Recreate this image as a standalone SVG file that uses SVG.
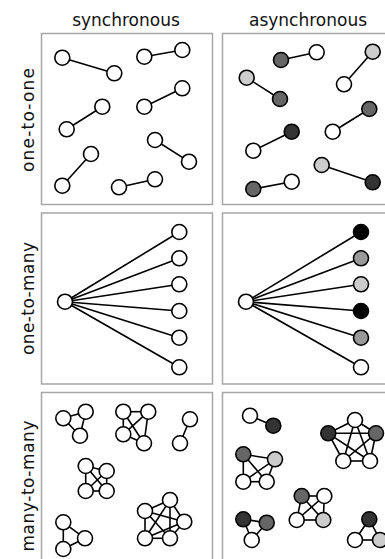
<svg xmlns="http://www.w3.org/2000/svg" width="385" height="559" viewBox="0 0 385 559">
<style>
.panel{fill:none;stroke:#a6a6a6;stroke-width:1.5}
.lbl{font-family:"DejaVu Sans",sans-serif;font-size:17px;fill:#111}
.e line{stroke:#000;stroke-width:1.6}
.n circle{stroke:#000;stroke-width:1.6;fill:#fff}
.n.g1 circle{fill:#cccccc}
.n.g2 circle{fill:#999999}
.n.g3 circle{fill:#666666}
.n.g4 circle{fill:#333333}
.n.g5 circle{fill:#000000}
</style>
<rect width="385" height="559" fill="#fff"/>
<g id="panels">
<rect class="panel" x="41.5" y="33.5" width="171" height="171"/>
<rect class="panel" x="222.5" y="33.5" width="171" height="171"/>
<rect class="panel" x="41.5" y="213" width="171" height="171"/>
<rect class="panel" x="222.5" y="213" width="171" height="171"/>
<rect class="panel" x="41.5" y="392.5" width="171" height="171"/>
<rect class="panel" x="222.5" y="392.5" width="171" height="171"/>
</g>
<g id="labels">
<text class="lbl" x="126" y="26" text-anchor="middle">synchronous</text>
<text class="lbl" x="308" y="26" text-anchor="middle">asynchronous</text>
<text class="lbl" transform="translate(34,120) rotate(-90)" text-anchor="middle" textLength="104" lengthAdjust="spacing">one-to-one</text>
<text class="lbl" transform="translate(34,298.5) rotate(-90)" text-anchor="middle" textLength="113" lengthAdjust="spacing">one-to-many</text>
<text class="lbl" transform="translate(34,486) rotate(-90)" text-anchor="middle" textLength="131" lengthAdjust="spacing">many-to-many</text>
</g>
<g id="connectors" class="e">
<line x1="62.3" y1="57.7" x2="114.3" y2="73.3"/>
<line x1="144.3" y1="56.7" x2="182.3" y2="50"/>
<line x1="144.3" y1="106.7" x2="182.3" y2="88.3"/>
<line x1="102.3" y1="106.7" x2="66.7" y2="129.3"/>
<line x1="155" y1="140" x2="189" y2="161.7"/>
<line x1="91" y1="154" x2="62.3" y2="185.7"/>
<line x1="119" y1="187.3" x2="155" y2="179.3"/>
<line x1="281" y1="60" x2="316.7" y2="52.3"/>
<line x1="372.7" y1="51.7" x2="344" y2="84.3"/>
<line x1="246.7" y1="77.7" x2="280" y2="99"/>
<line x1="291.7" y1="131.7" x2="253.3" y2="150.7"/>
<line x1="369.3" y1="109" x2="332.7" y2="131.7"/>
<line x1="321.7" y1="165" x2="372.7" y2="182.3"/>
<line x1="253.3" y1="189" x2="291.7" y2="181.7"/>
<line x1="65" y1="301.7" x2="179.3" y2="232"/>
<line x1="65" y1="301.7" x2="179.3" y2="258.3"/>
<line x1="65" y1="301.7" x2="179.3" y2="284.3"/>
<line x1="65" y1="301.7" x2="179.3" y2="311"/>
<line x1="65" y1="301.7" x2="179.3" y2="337.7"/>
<line x1="65" y1="301.7" x2="179.3" y2="367.3"/>
<line x1="246" y1="301.7" x2="361" y2="232"/>
<line x1="246" y1="301.7" x2="361" y2="258.3"/>
<line x1="246" y1="301.7" x2="361" y2="284.3"/>
<line x1="246" y1="301.7" x2="361" y2="311"/>
<line x1="246" y1="301.7" x2="361" y2="337.7"/>
<line x1="246" y1="301.7" x2="361" y2="367.3"/>
<line x1="63.3" y1="418.3" x2="85.7" y2="411.7"/>
<line x1="85.7" y1="411.7" x2="80" y2="435.7"/>
<line x1="63.3" y1="418.3" x2="80" y2="435.7"/>
<line x1="123.3" y1="411.7" x2="148.3" y2="411.7"/>
<line x1="123.3" y1="411.7" x2="123.3" y2="434.3"/>
<line x1="148.3" y1="411.7" x2="144" y2="443.3"/>
<line x1="123.3" y1="434.3" x2="144" y2="443.3"/>
<line x1="123.3" y1="411.7" x2="144" y2="443.3"/>
<line x1="148.3" y1="411.7" x2="123.3" y2="434.3"/>
<line x1="190" y1="419.3" x2="180" y2="443.3"/>
<line x1="85.7" y1="466" x2="106.7" y2="471"/>
<line x1="85.7" y1="466" x2="85.7" y2="491"/>
<line x1="85.7" y1="466" x2="106.7" y2="491"/>
<line x1="106.7" y1="471" x2="85.7" y2="491"/>
<line x1="106.7" y1="471" x2="106.7" y2="491"/>
<line x1="85.7" y1="491" x2="106.7" y2="491"/>
<line x1="170" y1="500" x2="145" y2="511"/>
<line x1="170" y1="500" x2="184.3" y2="521.7"/>
<line x1="170" y1="500" x2="145" y2="538.3"/>
<line x1="170" y1="500" x2="170" y2="538.3"/>
<line x1="145" y1="511" x2="184.3" y2="521.7"/>
<line x1="145" y1="511" x2="145" y2="538.3"/>
<line x1="145" y1="511" x2="170" y2="538.3"/>
<line x1="184.3" y1="521.7" x2="145" y2="538.3"/>
<line x1="184.3" y1="521.7" x2="170" y2="538.3"/>
<line x1="145" y1="538.3" x2="170" y2="538.3"/>
<line x1="63.3" y1="522.3" x2="85" y2="538.3"/>
<line x1="63.3" y1="522.3" x2="63.3" y2="549"/>
<line x1="85" y1="538.3" x2="63.3" y2="549"/>
<line x1="250" y1="415.7" x2="273.3" y2="425.7"/>
<line x1="355" y1="420" x2="328.3" y2="433.3"/>
<line x1="355" y1="420" x2="376" y2="433.3"/>
<line x1="355" y1="420" x2="343.3" y2="461"/>
<line x1="355" y1="420" x2="370" y2="461"/>
<line x1="328.3" y1="433.3" x2="376" y2="433.3"/>
<line x1="328.3" y1="433.3" x2="343.3" y2="461"/>
<line x1="328.3" y1="433.3" x2="370" y2="461"/>
<line x1="376" y1="433.3" x2="343.3" y2="461"/>
<line x1="376" y1="433.3" x2="370" y2="461"/>
<line x1="343.3" y1="461" x2="370" y2="461"/>
<line x1="243.3" y1="454.3" x2="275" y2="459.3"/>
<line x1="243.3" y1="454.3" x2="243.3" y2="481.7"/>
<line x1="243.3" y1="454.3" x2="266.7" y2="481.7"/>
<line x1="275" y1="459.3" x2="243.3" y2="481.7"/>
<line x1="275" y1="459.3" x2="266.7" y2="481.7"/>
<line x1="243.3" y1="481.7" x2="266.7" y2="481.7"/>
<line x1="301.7" y1="496" x2="324.3" y2="496"/>
<line x1="301.7" y1="496" x2="296.7" y2="520"/>
<line x1="301.7" y1="496" x2="323.3" y2="520"/>
<line x1="324.3" y1="496" x2="296.7" y2="520"/>
<line x1="324.3" y1="496" x2="323.3" y2="520"/>
<line x1="296.7" y1="520" x2="323.3" y2="520"/>
<line x1="243.3" y1="519.3" x2="266.7" y2="522.7"/>
<line x1="243.3" y1="519.3" x2="251.7" y2="540"/>
<line x1="266.7" y1="522.7" x2="251.7" y2="540"/>
<line x1="369.3" y1="519.3" x2="355" y2="540"/>
<line x1="369.3" y1="519.3" x2="380" y2="540"/>
<line x1="355" y1="540" x2="380" y2="540"/>
</g>
<g id="nodes">
<g id="s1a" class="n"><circle cx="62.3" cy="57.7" r="7.5"/></g>
<g id="s1b" class="n"><circle cx="114.3" cy="73.3" r="7.5"/></g>
<g id="s1c" class="n"><circle cx="144.3" cy="56.7" r="7.5"/></g>
<g id="s1d" class="n"><circle cx="182.3" cy="50" r="7.5"/></g>
<g id="s1e" class="n"><circle cx="144.3" cy="106.7" r="7.5"/></g>
<g id="s1f" class="n"><circle cx="182.3" cy="88.3" r="7.5"/></g>
<g id="s1g" class="n"><circle cx="102.3" cy="106.7" r="7.5"/></g>
<g id="s1h" class="n"><circle cx="66.7" cy="129.3" r="7.5"/></g>
<g id="s1i" class="n"><circle cx="155" cy="140" r="7.5"/></g>
<g id="s1j" class="n"><circle cx="189" cy="161.7" r="7.5"/></g>
<g id="s1k" class="n"><circle cx="91" cy="154" r="7.5"/></g>
<g id="s1l" class="n"><circle cx="62.3" cy="185.7" r="7.5"/></g>
<g id="s1m" class="n"><circle cx="119" cy="187.3" r="7.5"/></g>
<g id="s1n" class="n"><circle cx="155" cy="179.3" r="7.5"/></g>
<g id="a1a" class="n g3"><circle cx="281" cy="60" r="7.5"/></g>
<g id="a1b" class="n"><circle cx="316.7" cy="52.3" r="7.5"/></g>
<g id="a1c" class="n g1"><circle cx="372.7" cy="51.7" r="7.5"/></g>
<g id="a1d" class="n"><circle cx="344" cy="84.3" r="7.5"/></g>
<g id="a1e" class="n g1"><circle cx="246.7" cy="77.7" r="7.5"/></g>
<g id="a1f" class="n g3"><circle cx="280" cy="99" r="7.5"/></g>
<g id="a1g" class="n g4"><circle cx="291.7" cy="131.7" r="7.5"/></g>
<g id="a1h" class="n"><circle cx="253.3" cy="150.7" r="7.5"/></g>
<g id="a1i" class="n g3"><circle cx="369.3" cy="109" r="7.5"/></g>
<g id="a1j" class="n"><circle cx="332.7" cy="131.7" r="7.5"/></g>
<g id="a1k" class="n g1"><circle cx="321.7" cy="165" r="7.5"/></g>
<g id="a1l" class="n g4"><circle cx="372.7" cy="182.3" r="7.5"/></g>
<g id="a1m" class="n g3"><circle cx="253.3" cy="189" r="7.5"/></g>
<g id="a1n" class="n"><circle cx="291.7" cy="181.7" r="7.5"/></g>
<g id="s2hub" class="n"><circle cx="65" cy="301.7" r="7.5"/></g>
<g id="s2l1" class="n"><circle cx="179.3" cy="232" r="7.5"/></g>
<g id="s2l2" class="n"><circle cx="179.3" cy="258.3" r="7.5"/></g>
<g id="s2l3" class="n"><circle cx="179.3" cy="284.3" r="7.5"/></g>
<g id="s2l4" class="n"><circle cx="179.3" cy="311" r="7.5"/></g>
<g id="s2l5" class="n"><circle cx="179.3" cy="337.7" r="7.5"/></g>
<g id="s2l6" class="n"><circle cx="179.3" cy="367.3" r="7.5"/></g>
<g id="a2hub" class="n"><circle cx="246" cy="301.7" r="7.5"/></g>
<g id="a2l1" class="n g5"><circle cx="361" cy="232" r="7.5"/></g>
<g id="a2l2" class="n g2"><circle cx="361" cy="258.3" r="7.5"/></g>
<g id="a2l3" class="n g1"><circle cx="361" cy="284.3" r="7.5"/></g>
<g id="a2l4" class="n g5"><circle cx="361" cy="311" r="7.5"/></g>
<g id="a2l5" class="n g2"><circle cx="361" cy="337.7" r="7.5"/></g>
<g id="a2l6" class="n"><circle cx="361" cy="367.3" r="7.5"/></g>
<g id="s3c1a" class="n"><circle cx="63.3" cy="418.3" r="7.5"/></g>
<g id="s3c1b" class="n"><circle cx="85.7" cy="411.7" r="7.5"/></g>
<g id="s3c1c" class="n"><circle cx="80" cy="435.7" r="7.5"/></g>
<g id="s3c2a" class="n"><circle cx="123.3" cy="411.7" r="7.5"/></g>
<g id="s3c2b" class="n"><circle cx="148.3" cy="411.7" r="7.5"/></g>
<g id="s3c2c" class="n"><circle cx="123.3" cy="434.3" r="7.5"/></g>
<g id="s3c2d" class="n"><circle cx="144" cy="443.3" r="7.5"/></g>
<g id="s3c3a" class="n"><circle cx="190" cy="419.3" r="7.5"/></g>
<g id="s3c3b" class="n"><circle cx="180" cy="443.3" r="7.5"/></g>
<g id="s3c4a" class="n"><circle cx="85.7" cy="466" r="7.5"/></g>
<g id="s3c4b" class="n"><circle cx="106.7" cy="471" r="7.5"/></g>
<g id="s3c4c" class="n"><circle cx="85.7" cy="491" r="7.5"/></g>
<g id="s3c4d" class="n"><circle cx="106.7" cy="491" r="7.5"/></g>
<g id="s3c5a" class="n"><circle cx="170" cy="500" r="7.5"/></g>
<g id="s3c5b" class="n"><circle cx="145" cy="511" r="7.5"/></g>
<g id="s3c5c" class="n"><circle cx="184.3" cy="521.7" r="7.5"/></g>
<g id="s3c5d" class="n"><circle cx="145" cy="538.3" r="7.5"/></g>
<g id="s3c5e" class="n"><circle cx="170" cy="538.3" r="7.5"/></g>
<g id="s3c6a" class="n"><circle cx="63.3" cy="522.3" r="7.5"/></g>
<g id="s3c6b" class="n"><circle cx="85" cy="538.3" r="7.5"/></g>
<g id="s3c6c" class="n"><circle cx="63.3" cy="549" r="7.5"/></g>
<g id="a3pa" class="n"><circle cx="250" cy="415.7" r="7.5"/></g>
<g id="a3pb" class="n g4"><circle cx="273.3" cy="425.7" r="7.5"/></g>
<g id="a3k5a" class="n"><circle cx="355" cy="420" r="7.5"/></g>
<g id="a3k5b" class="n g4"><circle cx="328.3" cy="433.3" r="7.5"/></g>
<g id="a3k5c" class="n g3"><circle cx="376" cy="433.3" r="7.5"/></g>
<g id="a3k5d" class="n"><circle cx="343.3" cy="461" r="7.5"/></g>
<g id="a3k5e" class="n"><circle cx="370" cy="461" r="7.5"/></g>
<g id="a3k4aa" class="n g3"><circle cx="243.3" cy="454.3" r="7.5"/></g>
<g id="a3k4ab" class="n g1"><circle cx="275" cy="459.3" r="7.5"/></g>
<g id="a3k4ac" class="n"><circle cx="243.3" cy="481.7" r="7.5"/></g>
<g id="a3k4ad" class="n"><circle cx="266.7" cy="481.7" r="7.5"/></g>
<g id="a3k4ba" class="n g3"><circle cx="301.7" cy="496" r="7.5"/></g>
<g id="a3k4bb" class="n"><circle cx="324.3" cy="496" r="7.5"/></g>
<g id="a3k4bc" class="n"><circle cx="296.7" cy="520" r="7.5"/></g>
<g id="a3k4bd" class="n g1"><circle cx="323.3" cy="520" r="7.5"/></g>
<g id="a3t1a" class="n g4"><circle cx="243.3" cy="519.3" r="7.5"/></g>
<g id="a3t1b" class="n g3"><circle cx="266.7" cy="522.7" r="7.5"/></g>
<g id="a3t1c" class="n"><circle cx="251.7" cy="540" r="7.5"/></g>
<g id="a3t2a" class="n g4"><circle cx="369.3" cy="519.3" r="7.5"/></g>
<g id="a3t2b" class="n"><circle cx="355" cy="540" r="7.5"/></g>
<g id="a3t2c" class="n g1"><circle cx="380" cy="540" r="7.5"/></g>
</g>
</svg>
